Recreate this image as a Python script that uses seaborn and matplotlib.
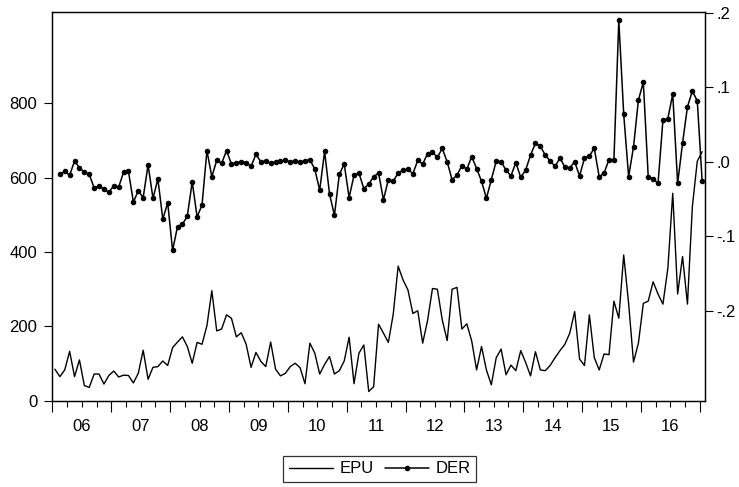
import numpy as np
import pandas as pd
import matplotlib
matplotlib.use("Agg")
import matplotlib.pyplot as plt
from matplotlib.lines import Line2D
import seaborn as sns

# monthly series, 2006M1 - 2017M1
EPU = [85, 65, 83, 133, 65, 110, 41, 36, 72, 72, 45, 68,
       80, 64, 69, 68, 48, 74, 136, 58, 90, 92, 107, 95,
       143, 158, 172, 146, 101, 157, 152, 202, 296, 188, 193, 231,
       222, 172, 183, 152, 90, 130, 106, 92, 158, 85, 67, 74,
       92, 101, 89, 46, 155, 128, 72, 98, 119, 72, 81, 107,
       171, 46, 128, 150, 25, 38, 206, 182, 157, 233, 362, 325,
       298, 235, 242, 155, 216, 302, 300, 217, 162, 300, 305, 193,
       207, 161, 83, 146, 83, 43, 116, 139, 70, 96, 81, 135,
       103, 67, 132, 83, 81, 95, 116, 135, 152, 182, 240, 112,
       95, 231, 116, 83, 126, 124, 268, 222, 392, 262, 104, 155,
       262, 268, 320, 287, 260, 356, 558, 287, 388, 260, 522, 644,
       670]

# DER starts one month later (2006M2)
DER = [-0.017, -0.013, -0.018, 0.001, -0.008, -0.014, -0.017, -0.035, -0.032, -0.037, -0.041,
       -0.032, -0.034, -0.014, -0.013, -0.054, -0.039, -0.048, -0.004, -0.049, -0.023, -0.077, -0.055,
       -0.119, -0.087, -0.084, -0.073, -0.027, -0.074, -0.058, 0.015, -0.020, 0.002, -0.002, 0.015,
       -0.003, -0.001, 0.000, -0.001, -0.006, 0.010, 0.000, 0.001, -0.002, 0.000, 0.001, 0.002,
       0.000, 0.001, 0.000, 0.001, 0.003, -0.010, -0.038, 0.014, -0.043, -0.072, -0.017, -0.003,
       -0.048, -0.018, -0.015, -0.036, -0.030, -0.020, -0.015, -0.051, -0.024, -0.026, -0.015, -0.011,
       -0.010, -0.016, 0.002, -0.003, 0.011, 0.013, 0.006, 0.018, 0.000, -0.024, -0.018, -0.005,
       -0.010, 0.007, -0.009, -0.026, -0.049, -0.024, 0.001, -0.000, -0.011, -0.019, -0.001, -0.021,
       -0.011, 0.009, 0.025, 0.021, 0.009, 0.001, -0.006, 0.005, -0.007, -0.008, 0.000, -0.019,
       0.005, 0.008, 0.018, -0.020, -0.015, 0.003, 0.002, 0.190, 0.064, -0.020, 0.020, 0.083,
       0.107, -0.020, -0.023, -0.029, 0.056, 0.058, 0.091, -0.029, 0.025, 0.074, 0.095, 0.082,
       -0.026]

YEAR_LABELS = ["06", "07", "08", "09", "10", "11", "12", "13", "14", "15", "16"]
LEFT_TICKS = [0, 200, 400, 600, 800]
RIGHT_TICKS = [-0.2, -0.1, 0.0, 0.1, 0.2]
RIGHT_LABELS = ["-.2", "-.1", ".0", ".1", ".2"]

periods = pd.period_range("2006-01", "2017-01", freq="M")
t = periods.year + (periods.month - 0.5) / 12
df_epu = pd.DataFrame({"t": t, "EPU": EPU})
df_der = pd.DataFrame({"t": t[1:], "DER": DER})

sns.set_style("ticks")
plt.rcParams["font.family"] = ["Liberation Sans", "DejaVu Sans"]
plt.rcParams["font.size"] = 12
for key in ("text.color", "xtick.color", "ytick.color", "axes.labelcolor", "axes.edgecolor"):
    plt.rcParams[key] = "black"

fig = plt.figure(figsize=(7.39, 4.87), dpi=100)
ax = fig.add_axes([0.071, 0.177, 0.883, 0.798])
ax2 = ax.twinx()

sns.lineplot(data=df_epu, x="t", y="EPU", ax=ax, color="black", linewidth=1.0)
sns.lineplot(data=df_der, x="t", y="DER", ax=ax2, color="black", linewidth=1.1,
             marker="o", markersize=4, markeredgewidth=0)

ax.set_xlim(2006.0, 2017.09)
ax.set_ylim(0, 1045)
ax2.set_ylim(-0.321, 0.201)

ax.set_yticks(LEFT_TICKS)
ax2.set_yticks(RIGHT_TICKS)
ax2.set_yticklabels(RIGHT_LABELS)

years = np.arange(2006, 2018)
ax.set_xticks(years)
ax.set_xticklabels([])
ax.tick_params(axis="x", which="major", length=8, width=0.8, direction="out")
ax.tick_params(axis="x", which="minor", length=4, width=0.8, direction="out")
ax.tick_params(axis="y", length=6, width=0.8, pad=5, labelsize=12)
ax2.tick_params(axis="y", length=6, width=0.8, pad=2, labelsize=12)

sec = ax.secondary_xaxis("bottom")
sec.set_xticks(np.arange(2006, 2017) + 0.5)
sec.set_xticklabels(YEAR_LABELS)
sec.tick_params(length=0, pad=13, labelsize=12)
sec.spines["bottom"].set_visible(False)

for a in (ax, ax2):
    a.set_xlabel("")
    a.set_ylabel("")
    for s in a.spines.values():
        s.set_visible(True)
        s.set_linewidth(0.9)
        s.set_color("black")
ax.minorticks_on()
ax.yaxis.set_tick_params(which="minor", length=0)
ax.set_xticks(np.arange(2006, 2017.01, 0.25), minor=True)

handles = [Line2D([], [], color="black", linewidth=1.0),
           Line2D([], [], color="black", linewidth=1.1, marker="o", markersize=3)]
leg = fig.legend(handles, ["EPU", "DER"], loc="center", bbox_to_anchor=(0.514, 0.037),
                 ncol=2, frameon=True, fancybox=False, edgecolor="black",
                 handlelength=2.6, columnspacing=0.7, handletextpad=0.4,
                 borderpad=0.35, fontsize=12)
leg.get_frame().set_linewidth(0.9)

fig.savefig("out.png", dpi=100)
